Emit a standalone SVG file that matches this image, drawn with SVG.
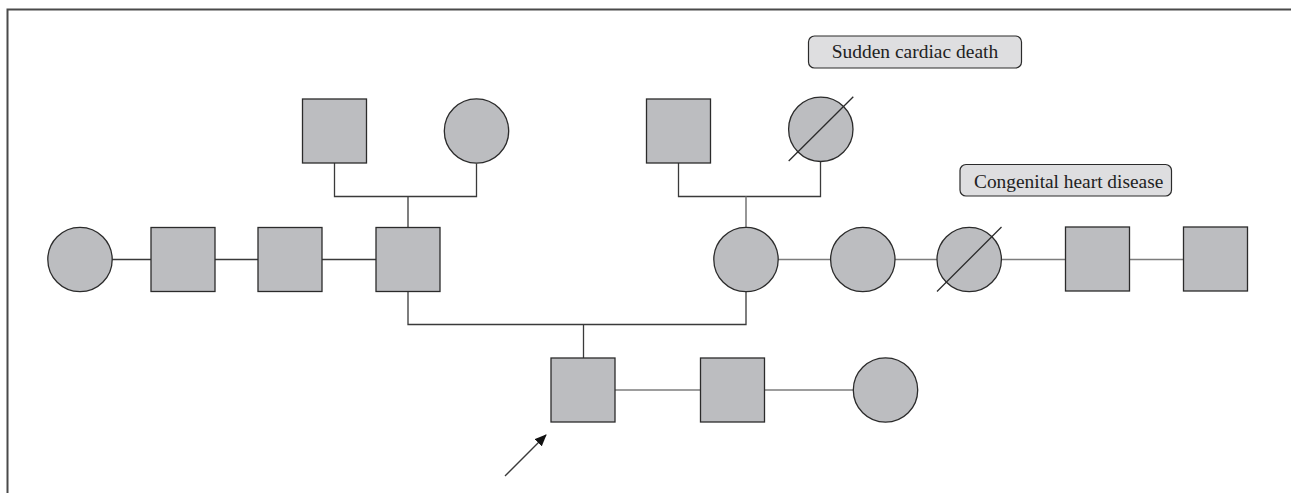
<svg xmlns="http://www.w3.org/2000/svg" width="1291" height="493" viewBox="0 0 1291 493">
  <style>
    .frame { fill: none; stroke: #4a4a4a; stroke-width: 2; }
    .sq, .ci { fill: #bcbdc0; stroke: #2b2b2b; stroke-width: 1.3; }
    .line { fill: none; stroke: #3a3a3a; stroke-width: 1.3; }
    .line2 { fill: none; stroke: #7c7c7c; stroke-width: 1.6; }
    .slash { stroke: #2b2b2b; stroke-width: 1.3; }
    .tag { fill: #dedee0; stroke: #2b2b2b; stroke-width: 1.2; }
    .tagtxt { font-family: "Liberation Serif", "DejaVu Serif", serif; font-size: 19px; fill: #222; }
  </style>
  <defs>
    <marker id="arrowhead" viewBox="0 0 12 10" refX="11" refY="5" markerWidth="12" markerHeight="10" markerUnits="userSpaceOnUse" orient="auto">
      <path d="M0,0 L12,5 L0,10 Z" fill="#111"/>
    </marker>
  </defs>

  <!-- page frame (top and left rules) -->
  <path class="frame" d="M7.5,493 V9.5 H1291"/>

  <!-- connectors -->
  <g id="connectors">
    <!-- paternal grandparents -->
    <path class="line" d="M334.5,163 V196.5 H476.5 V163.5"/>
    <path class="line" d="M408,196.5 V227.5"/>
    <!-- maternal grandparents -->
    <path class="line" d="M678.5,163 V196.5 H820.5 V161.5"/>
    <path class="line2" d="M746,196.5 V227"/>
    <!-- left marriage chain -->
    <path class="line" d="M112,259.5 H151"/>
    <path class="line" d="M215,259.5 H258"/>
    <path class="line" d="M322,259.5 H376"/>
    <!-- right marriage chain -->
    <path class="line2" d="M778,259.5 H831"/>
    <path class="line2" d="M895,259.5 H937"/>
    <path class="line2" d="M1001,259.5 H1065.5"/>
    <path class="line2" d="M1129.5,259.5 H1183.5"/>
    <!-- parents to proband sibship -->
    <path class="line" d="M408,291 V324.5 H746 V291"/>
    <path class="line" d="M583.5,324.5 V358"/>
    <!-- bottom chain -->
    <path class="line2" d="M615,390 H700.5"/>
    <path class="line2" d="M764.5,390 H853.5"/>
    <!-- proband arrow -->
    <path class="line" d="M505,476 L546,435" marker-end="url(#arrowhead)"/>
  </g>

  <!-- generation I -->
  <g id="pgf"><rect class="sq" x="302.5" y="99" width="64" height="64"/></g>
  <g id="pgm"><circle class="ci" cx="476.5" cy="131" r="32.2"/></g>
  <g id="mgf"><rect class="sq" x="646.5" y="99" width="64" height="64"/></g>
  <g id="mgm">
    <circle class="ci" cx="820.8" cy="129.3" r="32.2"/>
    <line class="slash" x1="788.7" y1="161" x2="853.3" y2="96.7"/>
  </g>

  <!-- generation II -->
  <g id="n1"><circle class="ci" cx="80" cy="259.5" r="32.2"/></g>
  <g id="n2"><rect class="sq" x="151" y="227.5" width="64" height="64"/></g>
  <g id="n3"><rect class="sq" x="258" y="227.5" width="64" height="64"/></g>
  <g id="father"><rect class="sq" x="376" y="227.5" width="64" height="64"/></g>
  <g id="mother"><circle class="ci" cx="746" cy="259.5" r="32.2"/></g>
  <g id="n6"><circle class="ci" cx="862.8" cy="259.5" r="32.2"/></g>
  <g id="n7">
    <circle class="ci" cx="969.2" cy="259.5" r="32.2"/>
    <line class="slash" x1="937" y1="291.5" x2="1001.5" y2="227"/>
  </g>
  <g id="n8"><rect class="sq" x="1065.5" y="227" width="64" height="64"/></g>
  <g id="n9"><rect class="sq" x="1183.5" y="227" width="64" height="64"/></g>

  <!-- generation III -->
  <g id="proband"><rect class="sq" x="551" y="358" width="64" height="64"/></g>
  <g id="n11"><rect class="sq" x="700.5" y="358" width="64" height="64"/></g>
  <g id="n12"><circle class="ci" cx="885.5" cy="390" r="32.2"/></g>

  <!-- annotations -->
  <g id="label-scd">
    <rect class="tag" x="808.5" y="36" width="213" height="32" rx="6"/>
    <text class="tagtxt" x="831.7" y="57.5" textLength="166.5" lengthAdjust="spacingAndGlyphs">Sudden cardiac death</text>
  </g>
  <g id="label-chd">
    <rect class="tag" x="960" y="164.5" width="211.5" height="31.5" rx="6"/>
    <text class="tagtxt" x="974" y="187.5" textLength="189.3" lengthAdjust="spacingAndGlyphs">Congenital heart disease</text>
  </g>
</svg>
